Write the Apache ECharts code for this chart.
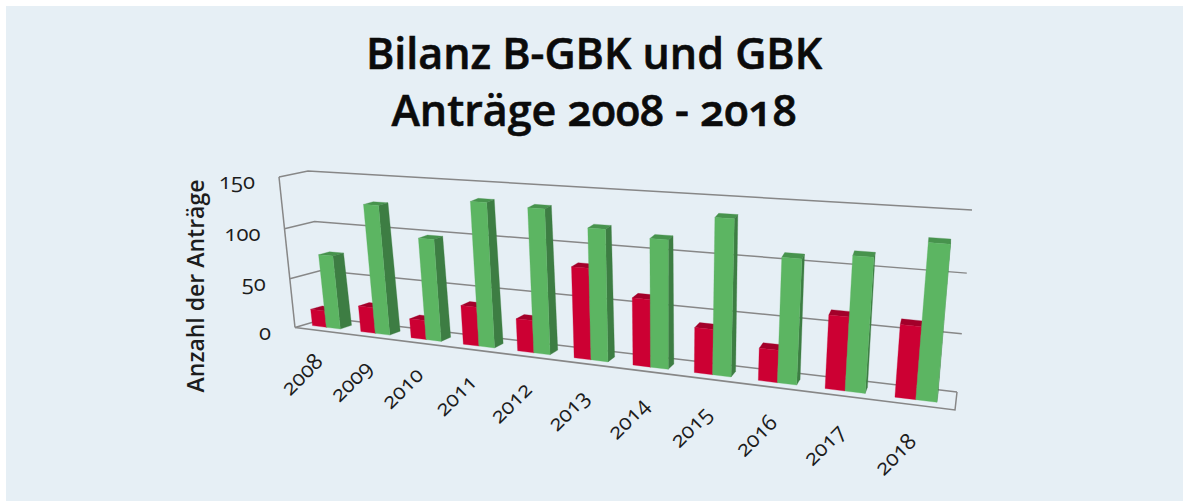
<!DOCTYPE html>
<html><head><meta charset="utf-8">
<style>
html,body{margin:0;padding:0;background:#fff;width:1183px;height:501px;overflow:hidden}
#c{position:absolute;left:6px;top:6px;width:1177px;height:495px}
svg text{font-feature-settings:"onum" 1 !important;font-variant-numeric:oldstyle-nums !important}
</style>
<script src="https://cdn.jsdelivr.net/npm/echarts@6/dist/echarts.min.js"></script>
</head><body><div id="c"></div>
<script>
const categories=['2008','2009','2010','2011','2012','2013','2014','2015','2016','2017','2018'];
const redValues=[17,26,19,38,31,85,62,41,29,64,62];
const greenValues=[74,127,99,137,135,121,116,138,109,115,130];
const tickValues=[0,50,100,150];
const seriesNames=['B-GBK','GBK'];
const titleText='Bilanz B-GBK und GBK\nAnträge 2008 - 2018';
const axisName='Anzahl der Anträge';

const OX=6,OY=6; // chart div offset
const FONT='"Open Sans","Lato",sans-serif';
function quad(p0,p1,p2,p3){
  const [x0,y0]=p0,[x1,y1]=p1,[x2,y2]=p2,[x3,y3]=p3;
  const dx1=x1-x2,dx2=x3-x2,sx=x0-x1+x2-x3,dy1=y1-y2,dy2=y3-y2,sy=y0-y1+y2-y3;
  const det=dx1*dy2-dx2*dy1,g=(sx*dy2-dx2*sy)/det,h=(dx1*sy-sx*dy1)/det;
  const a=x1-x0+g*x1,b=x3-x0+h*x3,d=y1-y0+g*y1,e=y3-y0+h*y3;
  return (u,v)=>{const q=g*u+h*v+1;return [(a*u+b*v+x0)/q-OX,(d*u+e*v+y0)/q-OY];};
}
const front=quad([295,327.5],[955,410],[973,224],[279,177]);
const back=quad([327,318],[957,392],[972,210],[308,171]);
function P(u,v,w){const f=front(u,v),b=back(u,v);return [f[0]+(b[0]-f[0])*w,f[1]+(b[1]-f[1])*w];}
const W0=0.3,W1=0.67,GROUP=0.58,USHIFT=-0.004;
const GRID={c:'#878787',w:1.5};
function norm(params,api,x,y){
  const r=params.coordSys,c=api.coord([x,y]);
  return [(c[0]-r.x)/r.width,(r.y+r.height-c[1])/r.height];
}
function barRender(side,cFront,cSide,cTop){
  return function(params,api){
    const i=api.value(0),val=api.value(1),r=params.coordSys;
    const [uc,v]=norm(params,api,i,val);
    const bw=api.size([1,0])[0]/r.width*GROUP/2;
    const u0=(side===0?uc-bw:uc)+USHIFT,u1=u0+bw;
    const poly=(pts,fill)=>({type:'polygon',shape:{points:pts},style:{fill:fill,stroke:fill,lineWidth:0.3}});
    return {type:'group',children:[
      poly([P(u0,v,W0),P(u1,v,W0),P(u1,v,W1),P(u0,v,W1)],cTop),
      poly([P(u1,0,W0),P(u1,0,W1),P(u1,v,W1),P(u1,v,W0)],cSide),
      poly([P(u0,0,W0),P(u1,0,W0),P(u1,v,W0),P(u0,v,W0)],cFront)
    ]};
  };
}
const line=(pts)=>({type:'polyline',shape:{points:pts},style:{stroke:GRID.c,lineWidth:GRID.w,fill:null}});
const chart=echarts.init(document.getElementById('c'),null,{renderer:'svg'});
chart.setOption({
  animation:false,
  backgroundColor:'#E6EFF5',
  title:{text:titleText,left:589-OX,textAlign:'center',top:13,itemGap:0,
    textStyle:{fontFamily:FONT,fontSize:43,fontWeight:600,color:'#0b0b0b',lineHeight:57,
      textBorderColor:'#0b0b0b',textBorderWidth:0.6}},
  tooltip:{show:false},
  grid:{left:100,top:100,width:900,height:300},
  xAxis:{type:'category',data:categories,show:false},
  yAxis:{type:'value',min:0,max:150,interval:50,show:false},
  series:[
    {type:'custom',name:'Gitter',silent:true,clip:false,z:1,
     data:tickValues.map(t=>[0,t]),encode:{x:0,y:1},
     renderItem(params,api){
       const t=api.value(1);const v=norm(params,api,0,t)[1];
       const ch=[line([P(0,v,0),P(0,v,1),P(1,v,1)])];
       if(t===0){ch.push(line([P(0,0,0),P(1,0,0),P(1,0,1)]));ch.push(line([P(0,0,0),P(0,1,0)]));}
       return {type:'group',children:ch};
     }},
    {type:'custom',name:seriesNames[0],silent:true,clip:false,z:2,
     data:redValues.map((v,i)=>[i,v]),encode:{x:0,y:1},
     renderItem:barRender(0,'#CC0033','#8E0024','#A3002A')},
    {type:'custom',name:seriesNames[1],silent:true,clip:false,z:3,
     data:greenValues.map((v,i)=>[i,v]),encode:{x:0,y:1},
     renderItem:barRender(1,'#5CB562','#3D7D43','#47934D')},
    {type:'custom',name:'Werte',silent:true,clip:false,z:4,
     data:tickValues.map(t=>[0,t]),encode:{x:0,y:1},
     renderItem(params,api){
       const t=api.value(1);const v=norm(params,api,0,t)[1];const p=P(0,v,0);
       return {type:'text',x:p[0]-24,y:p[1]+3,style:{text:String(t),fill:'#1c1c1c',
         font:'500 22px '+FONT,align:'right',verticalAlign:'middle'}};
     }},
    {type:'custom',name:'Jahre',silent:true,clip:false,z:4,
     data:categories.map((c,i)=>[i,0]),encode:{x:0,y:1},
     renderItem(params,api){
       const i=api.value(0);const u=norm(params,api,i,0)[0];const p=front(u,-0.18);
       return {type:'text',x:p[0]-4,y:p[1],rotation:Math.PI/4,style:{text:categories[i],fill:'#1c1c1c',
         font:'500 22px '+FONT,align:'right',verticalAlign:'middle'}};
     }}
  ],
  graphic:[{type:'text',x:195-OX,y:286-OY,rotation:Math.PI/2,silent:true,
    style:{text:axisName,fill:'#1c1c1c',font:'600 23px '+FONT,align:'center',verticalAlign:'middle'}}]
});
</script></body></html>
